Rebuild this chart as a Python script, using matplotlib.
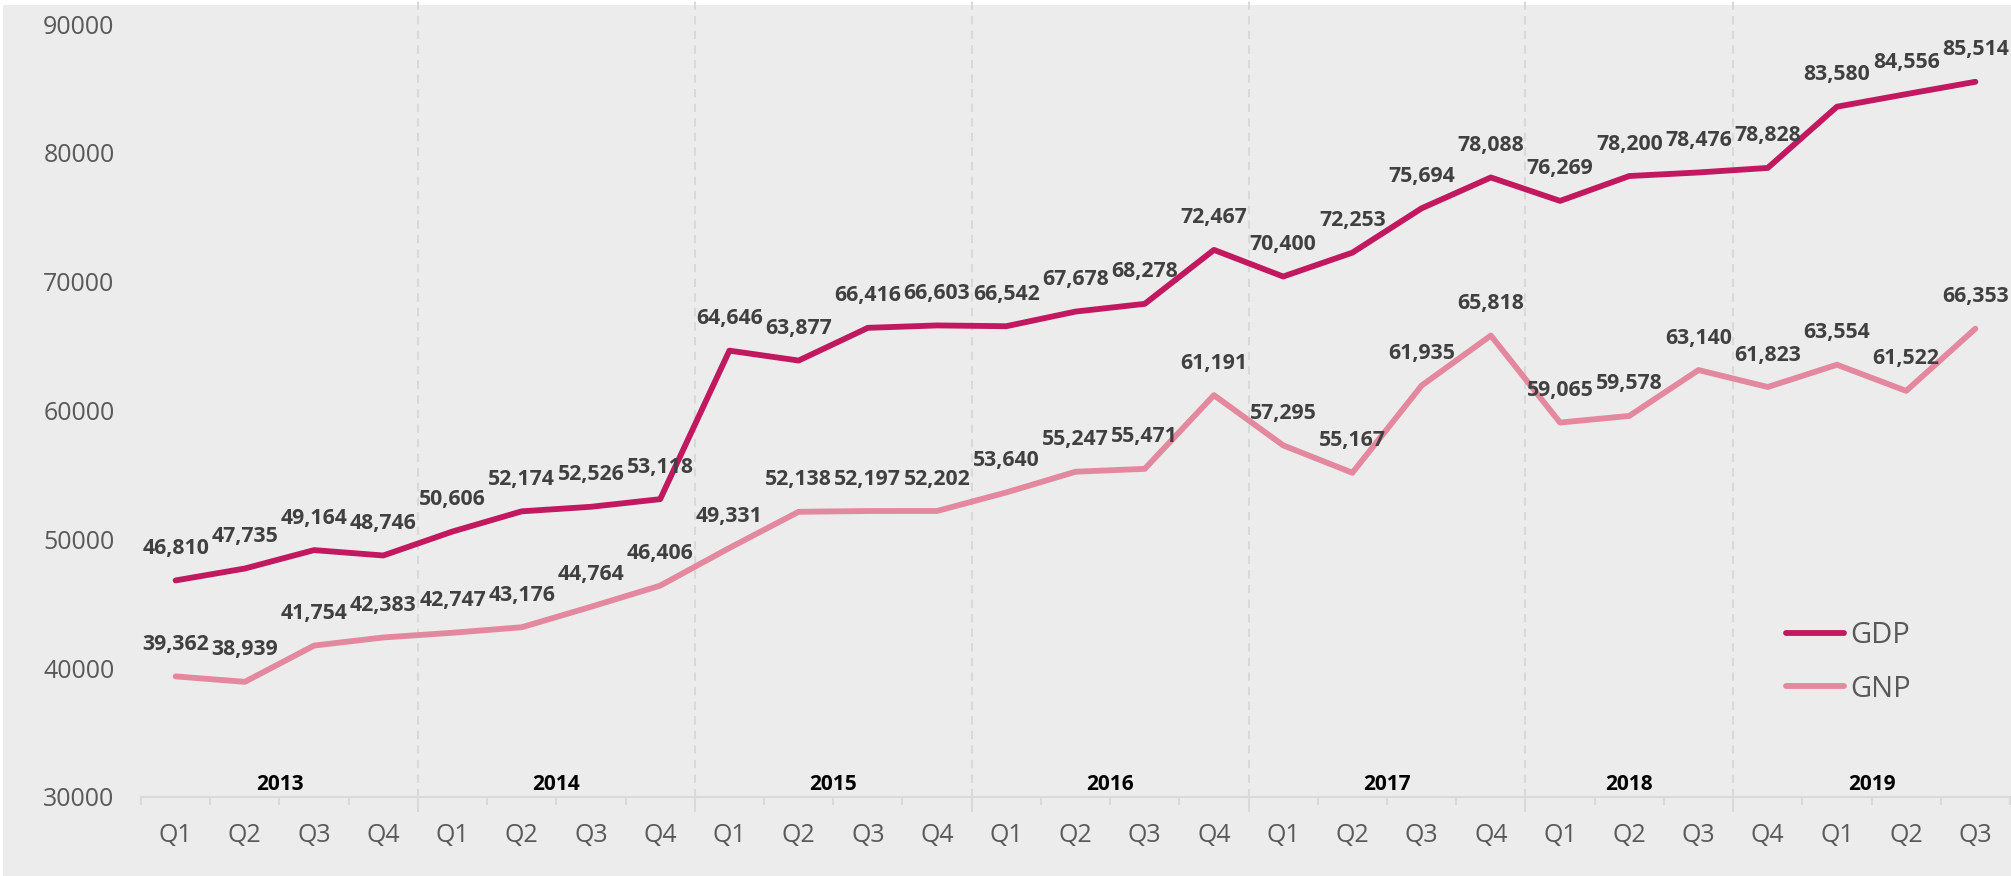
import matplotlib
matplotlib.use("Agg")
import matplotlib.pyplot as plt
from matplotlib.patches import Rectangle
import numpy as np

plt.rcParams['font.family'] = ['Open Sans', 'DejaVu Sans']

quarters = ['Q1', 'Q2', 'Q3', 'Q4', 'Q1', 'Q2', 'Q3', 'Q4', 'Q1', 'Q2', 'Q3', 'Q4',
            'Q1', 'Q2', 'Q3', 'Q4', 'Q1', 'Q2', 'Q3', 'Q4', 'Q1', 'Q2', 'Q3',
            'Q4', 'Q1', 'Q2', 'Q3']
years = ['2013', '2014', '2015', '2016', '2017', '2018', '2019']
year_sizes = [4, 4, 4, 4, 4, 3, 4]

gdp = [46810, 47735, 49164, 48746, 50606, 52174, 52526, 53118, 64646, 63877,
       66416, 66603, 66542, 67678, 68278, 72467, 70400, 72253, 75694, 78088,
       76269, 78200, 78476, 78828, 83580, 84556, 85514]
gnp = [39362, 38939, 41754, 42383, 42747, 43176, 44764, 46406, 49331, 52138,
       52197, 52202, 53640, 55247, 55471, 61191, 57295, 55167, 61935, 65818,
       59065, 59578, 63140, 61823, 63554, 61522, 66353]

gdp_color = '#C2185F'
gnp_color = '#E4889F'
bg = '#ECECEC'
grid_c = '#D9D9D9'

fig = plt.figure(figsize=(20.11, 8.76), dpi=100, facecolor='white')
fig.patches.append(Rectangle((3 / 2011, 0), 1, 1 - 5 / 876, transform=fig.transFigure,
                             facecolor=bg, edgecolor='none', zorder=-10))
ax = fig.add_axes([141 / 2011, 1 - 797 / 876, 1869 / 2011, 773 / 876])
ax.set_zorder(1)
ax.set_facecolor(bg)

x = np.arange(len(quarters))
ax.plot(x, gdp, color=gdp_color, lw=4.2, solid_capstyle='round', label='GDP', zorder=3)
ax.plot(x, gnp, color=gnp_color, lw=4.2, solid_capstyle='round', label='GNP', zorder=3)

for xi, v in zip(x, gdp):
    ax.annotate(f'{v:,}', (xi, v), xytext=(0, 23), textcoords='offset points',
                ha='center', va='center', fontsize=15.3, fontweight='bold', color='#404040')
for xi, v in zip(x, gnp):
    ax.annotate(f'{v:,}', (xi, v), xytext=(0, 23), textcoords='offset points',
                ha='center', va='center', fontsize=15.3, fontweight='bold', color='#404040')

ax.set_xlim(-0.5, len(quarters) - 0.5)
ax.set_ylim(30000, 90000)
ax.set_yticks(np.arange(30000, 90001, 10000))
ax.set_xticks(x)
ax.set_xticklabels(quarters)
ax.set_xticks(np.arange(-0.5, len(quarters), 1), minor=True)
ax.tick_params(axis='x', which='major', length=0, pad=19, labelsize=18, labelcolor='#595959')
ax.tick_params(axis='x', which='minor', length=6, width=1.5, color=grid_c)
ax.tick_params(axis='y', length=0, pad=19, labelsize=18, labelcolor='#595959')
for s in ['top', 'right', 'left']:
    ax.spines[s].set_visible(False)
ax.spines['bottom'].set_color(grid_c)
ax.spines['bottom'].set_linewidth(1.5)

# year separators and year labels
bounds = np.cumsum(year_sizes)
start = 0
for yr, n in zip(years, year_sizes):
    center = start + (n - 1) / 2
    ax.text(center, 0.016, yr, transform=ax.get_xaxis_transform(), ha='center', va='center',
            fontsize=15, fontweight='bold', color='black')
    start += n
for b in bounds[:-1]:
    ax.plot([b - 0.5, b - 0.5], [-0.02, 1.035], transform=ax.get_xaxis_transform(),
            color=grid_c, lw=1.5, ls=(0, (4, 3)), clip_on=False, zorder=1)

leg = ax.legend(loc='upper left', bbox_to_anchor=(0.866, 0.262), frameon=False, fontsize=21,
                handlelength=2.0, handletextpad=0.2, labelspacing=0.85, labelcolor='#595959')

fig.savefig('out.png', dpi=100, facecolor=fig.get_facecolor())
